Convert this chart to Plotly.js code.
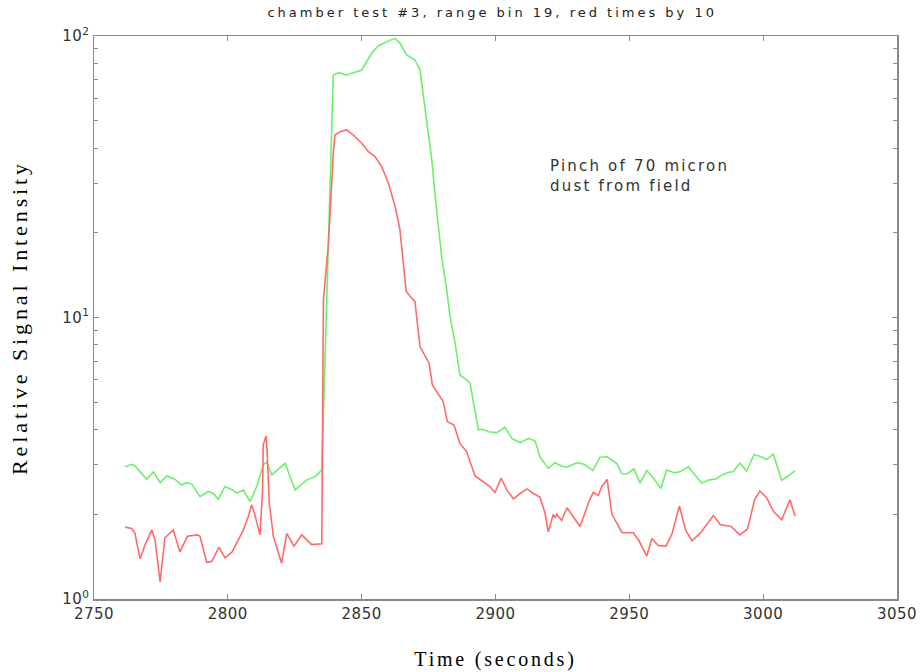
<!DOCTYPE html>
<html>
<head>
<meta charset="utf-8">
<script src="https://cdn.plot.ly/plotly-3.0.1.min.js"></script>
<style>
html,body{margin:0;padding:0;background:#fff;}
#chart{width:920px;height:672px;}
#chart text.gtitle{letter-spacing:3px;}
#chart text.xtitle{letter-spacing:2.8px;}
#chart text.ytitle{letter-spacing:3.9px;}
#chart text.annotation-text{letter-spacing:2.2px;}
#chart g.xtick text{letter-spacing:0.5px;}
#chart g.ytick text{letter-spacing:0.5px;}
</style>
</head>
<body>
<div id="chart"></div>
<script>
// Green series (time in seconds, relative signal intensity)
var greenTime = [2761.6,2764.1,2765.3,2769.7,2772.2,2774.7,2777.2,2780.3,2782.8,2784.6,2786.5,2789.6,2792.7,2794.6,2796.4,2798.9,2801.4,2803.4,2805.8,2808.3,2810.8,2813.2,2814.5,2816.4,2821.4,2825.1,2829.5,2832.6,2835.1,2837.0,2838.8,2839.4,2841.3,2844.4,2850.0,2853.7,2856.2,2859.4,2862.5,2864.3,2866.8,2869.9,2871.8,2873.0,2874.3,2876.2,2878.0,2879.9,2881.8,2883.0,2884.9,2886.7,2889.2,2890.5,2893.6,2895.4,2897.3,2900.4,2903.5,2906.1,2909.2,2912.3,2914.8,2916.6,2919.7,2922.2,2924.7,2926.6,2930.5,2933.1,2936.4,2939.0,2941.7,2943.5,2945.4,2947.1,2949.1,2951.7,2954.0,2956.5,2959.0,2961.8,2963.9,2966.7,2968.9,2972.0,2974.5,2977.0,2979.8,2982.4,2984.6,2987.2,2988.8,2991.3,2993.8,2996.6,2999.2,3001.3,3003.8,3006.9,3009.4,3011.9];
var greenSignal = [2.95,3.01,2.97,2.66,2.83,2.59,2.74,2.66,2.54,2.59,2.56,2.31,2.41,2.37,2.26,2.51,2.45,2.38,2.44,2.22,2.51,2.99,3.07,2.76,3.03,2.44,2.65,2.72,2.87,11.5,47.6,72.7,74.1,72.7,75.7,86.8,92.2,95.5,98.1,94.2,85.6,82.2,75.7,62.6,50.3,36.3,24.1,16.4,12.5,10.1,8.10,6.25,6.00,5.84,3.99,4.01,3.93,3.90,4.07,3.72,3.59,3.72,3.64,3.20,2.91,3.05,2.97,2.94,3.05,3.01,2.86,3.19,3.20,3.12,3.02,2.79,2.78,2.90,2.58,2.86,2.69,2.47,2.87,2.81,2.83,2.95,2.76,2.58,2.65,2.67,2.76,2.82,2.83,3.04,2.85,3.26,3.20,3.13,3.27,2.64,2.74,2.86];

// Red series (times 10)
var redTime = [2761.6,2764.1,2765.3,2767.2,2769.1,2771.6,2772.8,2774.7,2776.5,2779.6,2782.1,2784.9,2788.7,2789.6,2792.1,2794.0,2796.7,2798.9,2801.6,2803.4,2805.8,2807.6,2808.9,2810.1,2812.0,2813.0,2813.2,2814.3,2814.7,2815.5,2817.0,2820.1,2822.0,2824.7,2827.6,2831.3,2835.1,2835.7,2837.5,2838.2,2838.8,2839.4,2840.0,2841.9,2844.4,2846.9,2850.0,2852.5,2855.0,2857.5,2860.0,2862.5,2864.3,2864.9,2866.6,2868.1,2869.9,2871.8,2873.7,2875.2,2876.4,2878.6,2880.5,2882.0,2884.5,2886.7,2889.2,2892.3,2894.8,2897.9,2899.8,2902.1,2904.2,2906.7,2909.2,2911.7,2914.1,2916.6,2918.5,2919.7,2921.6,2922.2,2922.9,2924.7,2926.7,2929.1,2931.6,2934.7,2936.5,2938.4,2939.7,2941.7,2943.5,2945.3,2947.3,2951.5,2953.6,2956.5,2958.4,2960.8,2963.7,2965.9,2968.7,2971.0,2973.4,2976.4,2981.4,2983.9,2988.0,2991.3,2994.1,2996.8,2998.8,3001.3,3003.8,3006.9,3010.0,3011.9];
var redSignal = [1.80,1.78,1.71,1.39,1.56,1.76,1.62,1.15,1.65,1.76,1.47,1.67,1.69,1.67,1.35,1.36,1.53,1.40,1.47,1.58,1.76,1.96,2.16,1.99,1.69,2.44,3.53,3.79,3.30,2.19,1.67,1.34,1.71,1.54,1.69,1.56,1.57,11.5,17.9,23.5,31.6,38.3,44.5,45.7,46.4,44.5,41.6,38.8,37.3,34.3,30.0,24.8,20.5,17.7,12.4,11.9,11.4,7.87,7.26,6.88,5.76,5.38,5.02,4.26,4.15,3.57,3.34,2.74,2.63,2.51,2.39,2.69,2.44,2.27,2.37,2.46,2.37,2.30,2.02,1.73,2.00,1.94,2.00,1.90,2.11,1.96,1.81,2.19,2.39,2.33,2.51,2.66,2.00,1.86,1.72,1.72,1.61,1.42,1.64,1.55,1.54,1.70,2.14,1.76,1.61,1.71,1.98,1.84,1.81,1.69,1.77,2.25,2.42,2.29,2.05,1.91,2.25,1.97];

var yTickVals = [1, 10, 100];
var yTickText = ['10<sup>0</sup>', '10<sup>1</sup>', '10<sup>2</sup>'];
var yMinorVals = [2,3,4,5,6,7,8,9,20,30,40,50,60,70,80,90];

var titleText = 'chamber test #3, range bin 19, red times by 10';
var noteText = 'Pinch of 70 micron<br>dust from field';
var xTitle = 'Time (seconds)';
var yTitle = 'Relative Signal Intensity';

var sans = 'DejaVu Sans, Liberation Sans, Arial, sans-serif';
var serif = 'Liberation Serif, Times New Roman, serif';

var traces = [
  {x: greenTime, y: greenSignal, type: 'scatter', mode: 'lines',
   line: {color: '#6cf06c', width: 1.6}, hoverinfo: 'skip'},
  {x: redTime, y: redSignal, type: 'scatter', mode: 'lines',
   line: {color: '#ff6b6b', width: 1.6}, hoverinfo: 'skip'}
];

var axisColor = '#8a8a8a';
var layout = {
  width: 920, height: 672,
  margin: {l: 94, r: 23, t: 36, b: 73},
  paper_bgcolor: '#fff', plot_bgcolor: '#fff',
  showlegend: false,
  title: {text: titleText, font: {family: sans, size: 13, color: '#222'},
          xref: 'container', x: 0.535, xanchor: 'center', yref: 'container', y: 0.981, yanchor: 'middle'},
  xaxis: {
    range: [2750, 3050], dtick: 50, tick0: 2750,
    showgrid: false, zeroline: false,
    showline: true, linecolor: axisColor, linewidth: 1.5, mirror: 'ticks',
    ticks: 'inside', ticklen: 5, tickcolor: axisColor, tickwidth: 1,
    tickfont: {family: sans, size: 15, color: '#333'},
    automargin: false,
    title: {text: xTitle, font: {family: serif, size: 20, color: '#000'}, standoff: 30}
  },
  yaxis: {
    type: 'log', range: [0, 2],
    tickvals: yTickVals, ticktext: yTickText,
    showgrid: false, zeroline: false,
    showline: true, linecolor: axisColor, linewidth: 1.5, mirror: 'ticks',
    ticks: 'inside', ticklen: 5, tickcolor: axisColor, tickwidth: 1,
    minor: {tickvals: yMinorVals, ticks: 'inside', ticklen: 4, tickcolor: axisColor, tickwidth: 1, showgrid: false},
    tickfont: {family: sans, size: 15, color: '#333'},
    automargin: false,
    title: {text: yTitle, font: {family: serif, size: 22, color: '#000'}, standoff: 30}
  },
  annotations: [
    {x: 2919.6, y: Math.log10(31.8), xref: 'x', yref: 'y', text: noteText, showarrow: false,
     xanchor: 'left', yanchor: 'middle', align: 'left',
     font: {family: sans, size: 15, color: '#333'}}
  ]
};

Plotly.newPlot('chart', traces, layout, {displayModeBar: false, staticPlot: true});
</script>
</body>
</html>
